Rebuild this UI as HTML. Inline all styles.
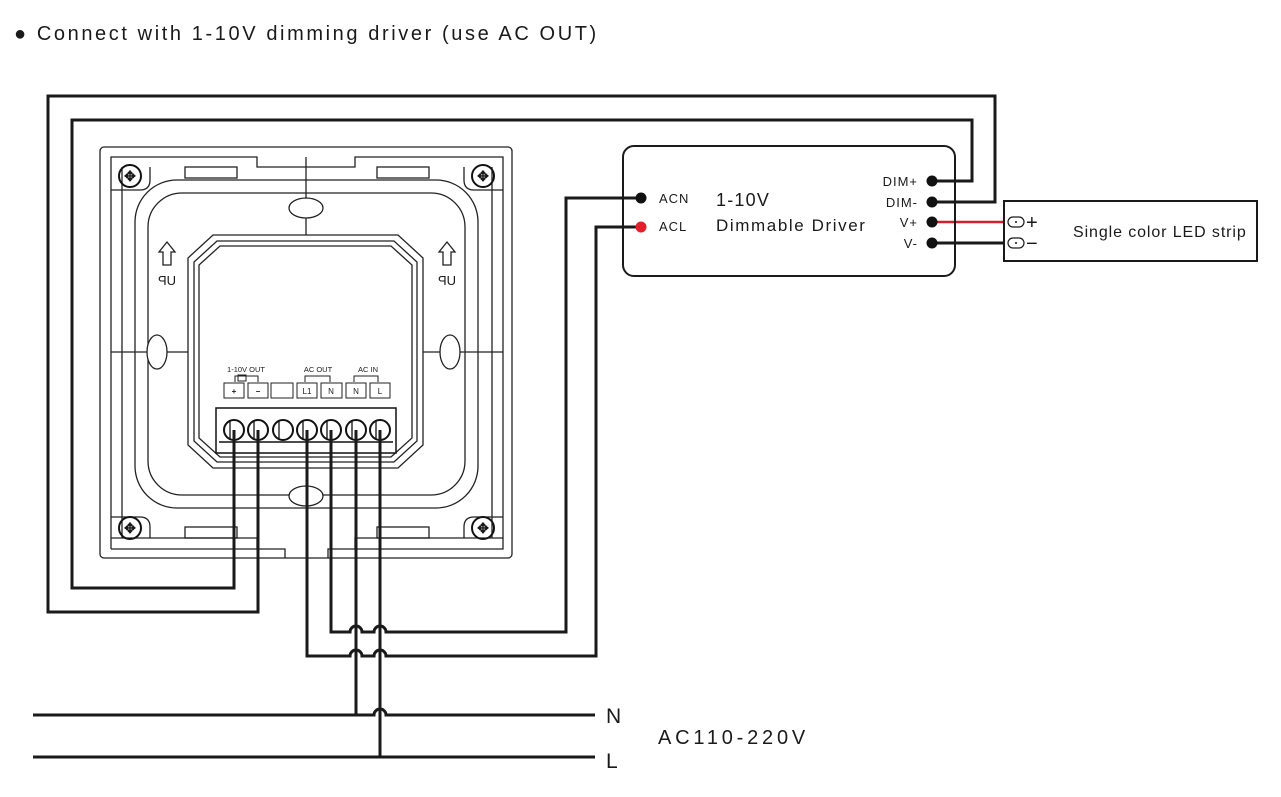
<!DOCTYPE html>
<html><head><meta charset="utf-8"><style>
html,body{margin:0;padding:0;background:#fff;}
svg{display:block;}
text{font-family:"Liberation Sans",sans-serif;fill:#1a1a1a;}
</style></head><body>
<svg width="1281" height="797" viewBox="0 0 1281 797" xmlns="http://www.w3.org/2000/svg">
<text x="14" y="40" font-size="20" letter-spacing="2.6">● Connect with 1-10V dimming driver (use AC OUT)</text>

<!-- panel -->
<g fill="none" stroke="#222" stroke-width="1.3">
  <rect x="100" y="147" width="412" height="411" rx="4"/>
  <path d="M111 549 V157 H257 V167 H355 V157 H503 V549 H328 V558"/>
  <path d="M111 549 H285 V558"/>
  <path d="M111 538 H257 V549 M355 549 V538 H503"/>
  <line x1="122" y1="167" x2="122" y2="538"/>
  <line x1="492" y1="167" x2="492" y2="538"/>
  <rect x="135" y="180" width="343" height="328" rx="42"/>
  <rect x="148" y="193" width="317" height="302" rx="34"/>
  <path d="M111 190 H140 Q150 190 150 180 V167" />
  <path d="M503 190 H474 Q464 190 464 180 V167" />
  <path d="M111 517 H140 Q150 517 150 527 V538" />
  <path d="M503 517 H474 Q464 517 464 527 V538" />
  <path d="M213 235 H398 L423 258 V445 L398 468 H213 L188 445 V258 Z"/>
  <path d="M217 241 H394 L417 262 V441 L394 462 H217 L194 441 V262 Z"/>
  <path d="M220 246 H391 L412 265 V438 L391 457 H220 L199 438 V265 Z"/>
  <line x1="306" y1="157" x2="306" y2="235"/>
  <line x1="111" y1="352" x2="188" y2="352"/>
  <line x1="423" y1="352" x2="503" y2="352"/>
  <ellipse cx="306" cy="208" rx="17" ry="10" fill="#fff"/>
  <ellipse cx="306" cy="496" rx="17" ry="10" fill="#fff"/>
  <ellipse cx="157" cy="352" rx="10" ry="17" fill="#fff"/>
  <ellipse cx="450" cy="352" rx="10" ry="17" fill="#fff"/>
  <rect x="185" y="167" width="52" height="11"/>
  <rect x="377" y="167" width="52" height="11"/>
  <rect x="185" y="527" width="52" height="11"/>
  <rect x="377" y="527" width="52" height="11"/>
</g>
<!-- screws -->
<g fill="none" stroke="#111" stroke-width="2">
  <circle cx="130" cy="176" r="11"/><circle cx="483" cy="176" r="11"/>
  <circle cx="130" cy="528" r="11"/><circle cx="483" cy="528" r="11"/>
</g>
<g font-size="14" text-anchor="middle" font-weight="bold">
  <text x="130" y="181">✥</text><text x="483" y="181">✥</text>
  <text x="130" y="533">✥</text><text x="483" y="533">✥</text>
</g>
<!-- UP arrows -->
<g fill="none" stroke="#222" stroke-width="1.3">
  <path d="M167 242 L175 252 H171 V265 H163 V252 H159 Z"/>
  <path d="M447 242 L455 252 H451 V265 H443 V252 H439 Z"/>
</g>
<text x="167" y="285" font-size="13" text-anchor="middle" transform="translate(334 0) scale(-1 1)">UP</text>
<text x="447" y="285" font-size="13" text-anchor="middle" transform="translate(894 0) scale(-1 1)">UP</text>

<!-- terminal labels -->
<g font-size="7.5" text-anchor="middle">
  <text x="246" y="372">1-10V OUT</text>
  <text x="318" y="372">AC OUT</text>
  <text x="368" y="372">AC IN</text>
</g>
<g fill="none" stroke="#222" stroke-width="1">
  <path d="M235 382 V376 H258 V382"/><rect x="238" y="375" width="8" height="6"/>
  <path d="M305 382 V376 H330 V382"/>
  <path d="M354 382 V376 H378 V382"/>
  <rect x="224" y="383" width="20" height="15"/><rect x="248" y="383" width="20" height="15"/>
  <rect x="271" y="383" width="22" height="15"/><rect x="297" y="383" width="20" height="15"/>
  <rect x="321" y="383" width="21" height="15"/><rect x="346" y="383" width="20" height="15"/>
  <rect x="370" y="383" width="20" height="15"/>
</g>
<g font-size="8" text-anchor="middle">
  <text x="234" y="394" font-weight="bold">+</text><text x="258" y="394" font-weight="bold">−</text>
  <text x="307" y="394">L1</text><text x="331" y="394">N</text>
  <text x="356" y="394">N</text><text x="380" y="394">L</text>
</g>
<g fill="#fff" stroke="#111" stroke-width="1.5">
  <rect x="216" y="408" width="180" height="45"/>
  <line x1="219" y1="442" x2="393" y2="442"/>
</g>
<g fill="#fff" stroke="#111" stroke-width="2">
  <circle cx="234" cy="430" r="10"/><circle cx="258" cy="430" r="10"/><circle cx="283" cy="430" r="10"/>
  <circle cx="307" cy="430" r="10"/><circle cx="331" cy="430" r="10"/><circle cx="356" cy="430" r="10"/><circle cx="380" cy="430" r="10"/>
</g>
<g stroke="#111" stroke-width="1.3">
  <line x1="230" y1="420" x2="230" y2="440"/><line x1="254" y1="420" x2="254" y2="440"/><line x1="279" y1="420" x2="279" y2="440"/>
  <line x1="303" y1="420" x2="303" y2="440"/><line x1="327" y1="420" x2="327" y2="440"/><line x1="352" y1="420" x2="352" y2="440"/><line x1="376" y1="420" x2="376" y2="440"/>
</g>

<!-- wires -->
<g fill="none" stroke="#1a1a1a" stroke-width="3">
  <path d="M234 430 V588 H72 V120 H972 V181 H932"/>
  <path d="M258 430 V612 H48 V96 H995 V202 H932"/>
  <path d="M331 430 V632 H350 A6 6 0 0 1 362 632 H374 A6 6 0 0 1 386 632 H566 V198 H641"/>
  <path d="M307 430 V656 H350 A6 6 0 0 1 362 656 H374 A6 6 0 0 1 386 656 H596 V227 H641"/>
  <path d="M356 430 V715"/>
  <path d="M380 430 V757"/>
  <path d="M33 715 H374 A6 6 0 0 1 386 715 H595"/>
  <path d="M33 757 H595"/>
  <path d="M932 243 H1008"/>
</g>
<path d="M932 222 H1008" stroke="#d0202a" stroke-width="2.5"/>

<!-- driver -->
<rect x="623" y="146" width="332" height="130" rx="11" fill="none" stroke="#1a1a1a" stroke-width="2"/>
<circle cx="641" cy="198" r="5.5" fill="#111"/>
<circle cx="641" cy="227" r="5.5" fill="#e0202a"/>
<circle cx="932" cy="181" r="5.5" fill="#111"/><circle cx="932" cy="202" r="5.5" fill="#111"/>
<circle cx="932" cy="222" r="5.5" fill="#111"/><circle cx="932" cy="243" r="5.5" fill="#111"/>
<g font-size="13" letter-spacing="1">
  <text x="659" y="203">ACN</text><text x="659" y="231">ACL</text>
  <text x="918" y="186" text-anchor="end">DIM+</text><text x="918" y="207" text-anchor="end">DIM-</text>
  <text x="918" y="227" text-anchor="end">V+</text><text x="918" y="248" text-anchor="end">V-</text>
</g>
<text x="716" y="206" font-size="18" letter-spacing="1.2">1-10V</text>
<text x="716" y="231" font-size="17" letter-spacing="1.6">Dimmable Driver</text>

<!-- LED strip -->
<rect x="1004" y="201" width="253" height="60" fill="#fff" stroke="#1a1a1a" stroke-width="2"/>
<g fill="#fff" stroke="#1a1a1a" stroke-width="1.2">
  <rect x="1008" y="217" width="16" height="10" rx="5"/><rect x="1008" y="238" width="16" height="10" rx="5"/>
</g>
<circle cx="1016" cy="222" r="1" fill="#111"/><circle cx="1016" cy="243" r="1" fill="#111"/>
<text x="1026" y="229" font-size="20">+</text>
<text x="1026" y="250" font-size="20">−</text>
<text x="1073" y="237" font-size="16" letter-spacing="0.9">Single color LED strip</text>

<!-- AC -->
<text x="606" y="723" font-size="21">N</text>
<text x="606" y="768" font-size="21">L</text>
<text x="658" y="744" font-size="20" letter-spacing="3.8">AC110-220V</text>
</svg>
</body></html>
